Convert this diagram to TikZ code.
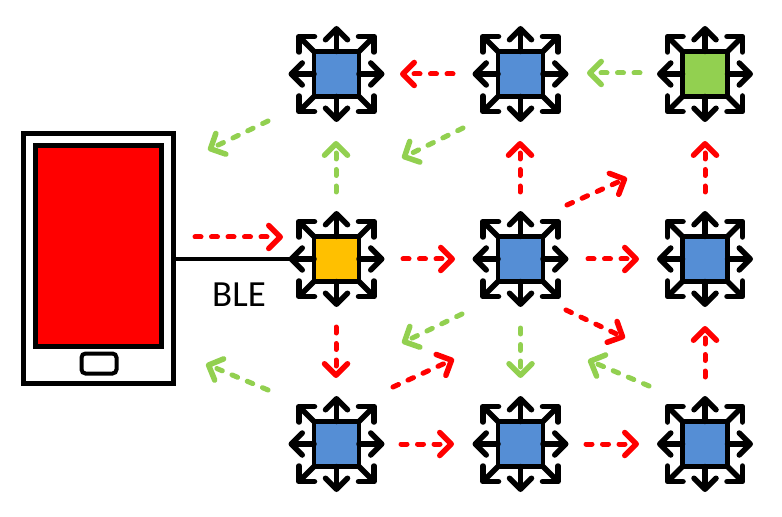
\documentclass[tikz,border=0pt]{standalone}
\usepackage{fontspec}
\setmainfont{Carlito}
\usetikzlibrary{arrows.meta}
\definecolor{nodeblue}{HTML}{558ED5}
\definecolor{nodegold}{HTML}{FFC000}
\definecolor{leafgreen}{HTML}{92D050}
\tikzset{
  x=1bp,y=-1bp,
  meshnode/.style={draw=black,line width=4.5bp,minimum size=45bp,inner sep=0pt,outer sep=0pt,fill=nodeblue},
  stub/.style={draw=black,line width=5.5bp,line cap=round,-{Straight Barb[length=11bp,width=22bp,line width=5.5bp,round]}},
  hop/.style={line width=5bp,line cap=round,dash pattern=on 6bp off 10.5bp,-{Straight Barb[length=11.5bp,width=23bp,line width=5.5bp,round]}},
  redhop/.style={hop,draw=red},
  greenhop/.style={hop,draw=leafgreen},
}
\begin{document}
\begin{tikzpicture}
\useasboundingbox (0,0) rectangle (782,517);
% phone
\node[draw=black,line width=5bp,fill=white,minimum width=150bp,minimum height=249bp,inner sep=0pt,outer sep=0pt] (phone) at (98.5,258.5) {};
\node[draw=black,line width=5bp,fill=red,minimum width=125bp,minimum height=200bp,inner sep=0pt,outer sep=0pt] (screen) at (98.5,246) {};
\node[draw=black,line width=4bp,rounded corners=4bp,minimum width=35bp,minimum height=20bp,inner sep=0pt,outer sep=0pt] (button) at (99,363.5) {};
% mesh nodes
\node[meshnode] (n11) at (336.5,74) {};
\node[meshnode] (n12) at (520.5,74) {};
\node[meshnode,fill=leafgreen] (n13) at (705,74) {};
\node[meshnode,fill=nodegold] (n21) at (336.5,259) {};
\node[meshnode] (n22) at (520.5,259) {};
\node[meshnode] (n23) at (705,259) {};
\node[meshnode] (n31) at (336.5,444) {};
\node[meshnode] (n32) at (520.5,444) {};
\node[meshnode] (n33) at (705,444) {};
\foreach \n in {n11,n12,n13,n21,n22,n23,n31,n32,n33}{
  \draw[stub] (\n.north) -- ++(0,-25.5);
  \draw[stub] (\n.south) -- ++(0,25.5);
  \draw[stub] (\n.east) -- ++(25.5,0);
  \draw[stub] (\n.west) -- ++(-25.5,0);
  \draw[stub] (\n.north east) -- ++(17,-17);
  \draw[stub] (\n.north west) -- ++(-17,-17);
  \draw[stub] (\n.south east) -- ++(17,17);
  \draw[stub] (\n.south west) -- ++(-17,17);
}
% BLE link
\draw[line width=4bp] (phone.east |- n21.center) -- (n21.west);
\node[font=\fontsize{37}{37}\selectfont,inner sep=0pt] (ble) at (239,295) {BLE};
% free ends of the hops
\coordinate (a1) at (195,237); \coordinate (a2) at (283,237);
\coordinate (b1) at (268,121); \coordinate (b2) at (208,150);
\coordinate (c1) at (268,390); \coordinate (c2) at (206,364);
\coordinate (d1) at (336,192); \coordinate (d2) at (336,141);
\coordinate (e1) at (453,74);  \coordinate (e2) at (400,74);
\coordinate (f1) at (640,73);  \coordinate (f2) at (587,73);
\coordinate (g1) at (463,128); \coordinate (g2) at (402,158);
\coordinate (h1) at (520,192); \coordinate (h2) at (520,141);
\coordinate (i1) at (705,192); \coordinate (i2) at (705,141);
\coordinate (j1) at (567,205); \coordinate (j2) at (627,178);
\coordinate (k1) at (403,259); \coordinate (k2) at (455,259);
\coordinate (l1) at (588,259); \coordinate (l2) at (639,259);
\coordinate (m1) at (336,327); \coordinate (m2) at (336,378);
\coordinate (o1) at (462,314); \coordinate (o2) at (402,343);
\coordinate (p1) at (520.5,328); \coordinate (p2) at (520.5,378);
\coordinate (q1) at (566,310); \coordinate (q2) at (625,338);
\coordinate (r1) at (393,387); \coordinate (r2) at (454,359);
\coordinate (s1) at (649,386); \coordinate (s2) at (588,360);
\coordinate (t1) at (705,377); \coordinate (t2) at (705,326);
\coordinate (u1) at (401,444); \coordinate (u2) at (454,444);
\coordinate (v1) at (586,444); \coordinate (v2) at (639,444);
\foreach \p in {a,e,h,i,j,k,l,m,q,r,t,u,v}{\draw[redhop] (\p1) -- (\p2);}
\foreach \p in {b,c,d,f,g,o,p,s}{\draw[greenhop] (\p1) -- (\p2);}
\end{tikzpicture}
\end{document}
